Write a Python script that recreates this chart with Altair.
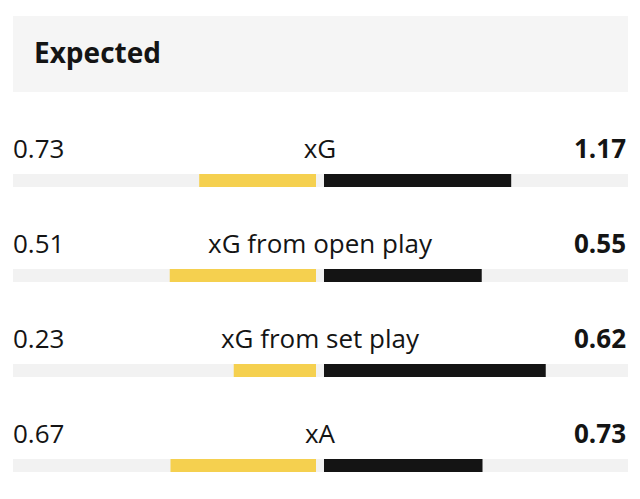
import altair as alt
import pandas as pd

metrics = ["xG", "xG from open play", "xG from set play", "xA"]
home = [0.73, 0.51, 0.23, 0.67]
away = [1.17, 0.55, 0.62, 0.73]
title_text = "Expected"

FONT = "Open Sans"
INK = "#141414"
YELLOW = "#F5D04F"
TRACK = "#F2F2F2"
HEADER_BG = "#F5F5F5"
FS = 26

df = pd.DataFrame({"metric": metrics, "home": home, "away": away})

base = alt.Chart(df).transform_calculate(
    hs="-datum.home / (datum.home + datum.away)",
    aw="datum.away / (datum.home + datum.away)",
    zero="0",
    lo="-1",
    hi="1",
)

xs = alt.Scale(domain=[-1, 1], range=[8, 616])
ys = alt.Scale(type="point", domain=metrics, range=[172.5, 457.5], padding=0)
Y = alt.Y("metric:N", scale=ys, axis=None)

track = base.mark_bar(size=13, color=TRACK, xOffset=-3, x2Offset=4).encode(
    x=alt.X("lo:Q", scale=xs, axis=None), x2="hi:Q", y=Y
)
yellow = base.mark_bar(size=13, color=YELLOW, xOffset=-4, x2Offset=-4).encode(
    x=alt.X("hs:Q", scale=xs, axis=None), x2="zero:Q", y=Y
)
black = base.mark_bar(size=13, color=INK, xOffset=4, x2Offset=4).encode(
    x=alt.X("zero:Q", scale=xs, axis=None), x2="aw:Q", y=Y
)

left_txt = base.mark_text(
    align="left", baseline="alphabetic", dy=-23, font=FONT, fontSize=FS, color=INK
).encode(x=alt.value(5), y=Y, text=alt.Text("home:Q", format=".2f"))

center_txt = base.mark_text(
    align="center", baseline="alphabetic", dy=-23, font=FONT, fontSize=FS, color=INK
).encode(x=alt.value(312), y=Y, text="metric:N")

right_txt = base.mark_text(
    align="right", baseline="alphabetic", dy=-23, font=FONT, fontSize=FS,
    fontWeight="bold", color=INK,
).encode(x=alt.value(618), y=Y, text=alt.Text("away:Q", format=".2f"))

hdr_df = pd.DataFrame({"t": [title_text]})
header_bg = alt.Chart(hdr_df).mark_rect(color=HEADER_BG).encode(
    x=alt.value(5), x2=alt.value(620), y=alt.value(8), y2=alt.value(84)
)
header_txt = alt.Chart(hdr_df).mark_text(
    align="left", baseline="alphabetic", font=FONT, fontSize=28,
    fontWeight="bold", color=INK,
).encode(x=alt.value(26), y=alt.value(55), text="t:N")

chart = alt.layer(
    header_bg, header_txt, track, yellow, black, left_txt, center_txt, right_txt
).properties(
    width=624, height=483, autosize=alt.AutoSizeParams(type="none"), padding=0
).configure(
    background="white", view=alt.ViewConfig(stroke=None)
)

chart.save("out.html", embed_options={"renderer": "svg", "actions": False})
